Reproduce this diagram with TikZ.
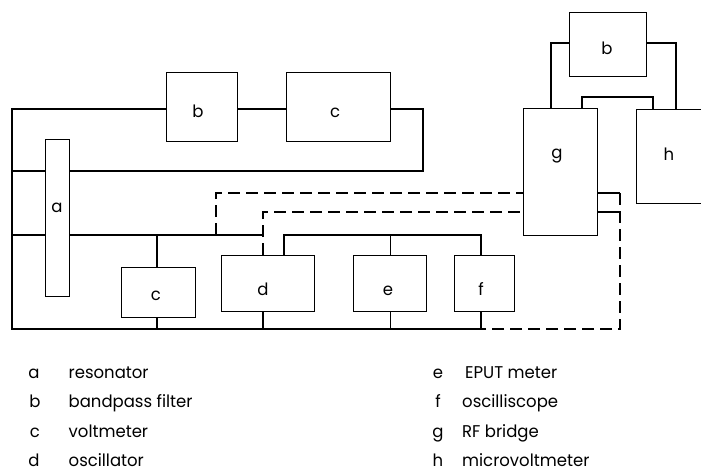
\documentclass[tikz,border=0pt]{standalone}
\usepackage{fontspec}
\newfontfamily\diagfont{Poppins}[FakeStretch=0.97]
\newcommand\mylabelfont{\diagfont\fontsize{17}{20}\selectfont}
\begin{document}
\begin{tikzpicture}[x=1pt,y=-1pt,
  wire/.style={line width=1.3pt,line join=miter},
  dwire/.style={line width=1.3pt,dash pattern=on 12pt off 6pt},
  box/.style={draw,line width=1.3pt,inner sep=0pt,anchor=north west},
  lbl/.style={font=\mylabelfont,anchor=base,inner sep=0pt},
  leg/.style={font=\mylabelfont,anchor=base west,inner sep=0pt}]
\useasboundingbox (0,0) rectangle (701,475);
\clip (0,0) rectangle (701,475);
% boxes
\node[box,minimum width=24pt,minimum height=157pt] (a) at (45,139) {};
\node[box,minimum width=71pt,minimum height=69pt] (b1) at (166,72) {};
\node[box,minimum width=104pt,minimum height=69pt] (c1) at (286,72) {};
\node[box,minimum width=74pt,minimum height=50pt] (c2) at (121,267) {};
\node[box,minimum width=93pt,minimum height=56pt] (d) at (221,255) {};
\node[box,minimum width=73pt,minimum height=56pt] (e) at (353,255) {};
\node[box,minimum width=60pt,minimum height=56pt] (f) at (454,255) {};
\node[box,minimum width=74pt,minimum height=127pt] (g) at (523,108) {};
\node[box,minimum width=84pt,minimum height=94pt] (h) at (636,109) {};
\node[box,minimum width=77pt,minimum height=64pt] (b2) at (569,12) {};
% box labels
\node[lbl] (la) at (57,212) {a};
\node[lbl] (lb1) at (198,117.5) {b};
\node[lbl] (lc1) at (335,117.5) {c};
\node[lbl] (lc2) at (156,300) {c};
\node[lbl] (ld) at (263,295) {d};
\node[lbl] (le) at (388,295) {e};
\node[lbl] (lf) at (481,295) {f};
\node[lbl] (lg) at (557,158) {g};
\node[lbl] (lh) at (669,160) {h};
\node[lbl] (lb2) at (607,54) {b};
% routing points
\coordinate (TL) at (12,109);
\coordinate (BL) at (12,329);
\coordinate (R1) at (423,109);
\coordinate (R2) at (423,171);
\coordinate (M) at (12,235);
\coordinate (J1) at (157,235);
\coordinate (J2) at (216,235);
\coordinate (D1) at (263,235);
\coordinate (dT) at (284,255);
\coordinate (dD) at (263,255);
\coordinate (U1) at (216,193);
\coordinate (U2) at (263,212);
\coordinate (G1) at (620,193);
\coordinate (G2) at (620,212);
\coordinate (GB) at (620,329);
\coordinate (FB) at (481,329);
\coordinate (FT) at (481,235);
\coordinate (T1) at (551,43);
\coordinate (T2) at (676,43);
\coordinate (T3) at (582,97);
\coordinate (T4) at (653,97);
% solid wires
\draw[wire] (b1.west |- TL) -- (TL) -- (BL) -- (FB) -- (FB |- f.south);
\draw[wire] (b1.east |- TL) -- (c1.west |- TL);
\draw[wire] (c1.east |- R1) -- (R1) -- (R2) -- (a.east |- R2);
\draw[wire] (a.west |- R2) -- (TL |- R2);
\draw[wire] (a.west |- M) -- (M);
\draw[wire] (a.east |- M) -- (D1);
\draw[wire] (J1) -- (J1 |- c2.north);
\draw[wire] (J1 |- c2.south) -- (J1 |- BL);
\draw[wire] (dD |- d.south) -- (dD |- BL);
\draw[wire] (e.south) -- (e.south |- BL);
\draw[wire] (dT) -- (dT |- D1) -- (FT) -- (FT |- f.north);
\draw[wire] (e.north) -- (e.north |- FT);
\draw[wire] (g.east |- G1) -- (G1);
\draw[wire] (g.east |- G2) -- (G2);
\draw[wire] (b2.west |- T1) -- (T1) -- (T1 |- g.north);
\draw[wire] (b2.east |- T2) -- (T2) -- (T2 |- h.north);
\draw[wire] (T3 |- g.north) -- (T3) -- (T4) -- (T4 |- h.north);
% dashed wires
\draw[dwire] (J2) -- (U1) -- (g.west |- U1);
\draw[dwire] (dD) -- (U2) -- (g.west |- U2);
\draw[dwire] (G1) -- (GB) -- (FB);
% legend
\node[lbl] (ka) at (34,378) {a};
\node[leg] (wa) at (68.5,378) {resonator};
\node[lbl] (kb) at (35,407.5) {b};
\node[leg] (wb) at (68.5,407.5) {bandpass filter};
\node[lbl] (kc) at (35,437) {c};
\node[leg] (wc) at (68.5,437) {voltmeter};
\node[lbl] (kd) at (34,466.5) {d};
\node[leg] (wd) at (68.5,466.5) {oscillator};
\node[lbl] (ke) at (438,378) {e};
\node[leg] (we) at (465,378) {EPUT meter};
\node[lbl] (kf) at (438,407.5) {f};
\node[leg] (wf) at (462,407.5) {oscilliscope};
\node[lbl] (kg) at (438,437) {g};
\node[leg] (wg) at (462,437) {RF bridge};
\node[lbl] (kh) at (438,466.5) {h};
\node[leg] (wh) at (462,466.5) {microvoltmeter};
\end{tikzpicture}
\end{document}
